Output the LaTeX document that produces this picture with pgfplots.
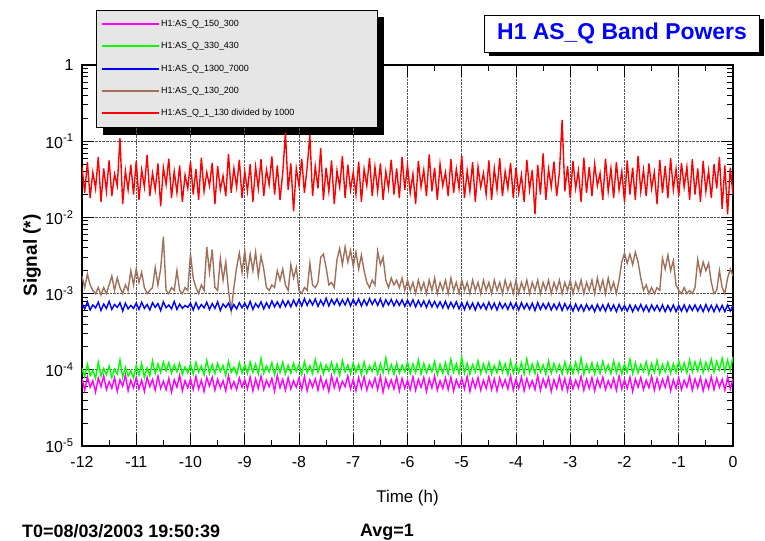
\documentclass[border=0pt]{standalone}
\usepackage{pgfplots}
\pgfplotsset{compat=1.18}
\usepackage{pgfplotstable}
\usepackage{fontspec}
\setmainfont{Liberation Sans}
\usetikzlibrary{shadows,backgrounds}

\definecolor{rootbrown}{RGB}{160,112,90}
\definecolor{rootgreen}{RGB}{0,255,0}
\definecolor{rootmag}{RGB}{255,0,255}
\definecolor{rootblue}{RGB}{0,0,255}
\definecolor{rootred}{RGB}{255,0,0}
\definecolor{legfill}{RGB}{230,230,230}

\pgfplotstableread{
t m g b br r
-12.00 7.6e-5 1.05e-4 7.4e-4 1.7e-3 4.6e-2
-11.95 5.4e-5 8.1e-5 6.3e-4 1.2e-3 2.1e-2
-11.90 8.1e-5 1.18e-4 7.8e-4 1.8e-3 5.3e-2
-11.85 5.9e-5 8.4e-5 6.1e-4 1.3e-3 1.8e-2
-11.80 7.2e-5 9.9e-5 7.1e-4 1.1e-3 3.9e-2
-11.75 5.1e-5 7.7e-5 6.5e-4 1.0e-3 2.4e-2
-11.70 7.8e-5 1.26e-4 7.7e-4 1.2e-3 6.2e-2
-11.65 6.0e-5 8.2e-5 6.0e-4 9.6e-4 1.6e-2
-11.60 8.4e-5 1.04e-4 7.3e-4 1.2e-3 4.4e-2
-11.55 5.5e-5 8.6e-5 6.4e-4 1.0e-3 2.2e-2
-11.50 7.0e-5 1.12e-4 7.9e-4 1.3e-3 5.6e-2
-11.45 5.7e-5 7.9e-5 6.2e-4 1.7e-3 1.9e-2
-11.40 7.9e-5 1.02e-4 7.2e-4 1.1e-3 3.7e-2
-11.35 5.2e-5 8.8e-5 6.6e-4 1.6e-3 2.6e-2
-11.30 7.4e-5 1.35e-4 7.6e-4 1.2e-3 1.1e-1
-11.25 6.1e-5 8.0e-5 5.9e-4 1.0e-3 1.5e-2
-11.20 8.6e-5 1.09e-4 7.5e-4 1.3e-3 4.1e-2
-11.15 5.3e-5 8.3e-5 6.3e-4 1.1e-3 2.3e-2
-11.10 7.3e-5 9.7e-5 7.0e-4 2.0e-3 4.9e-2
-11.05 5.8e-5 7.8e-5 6.4e-4 1.3e-3 2.0e-2
-11.00 7.9e-5 1.14e-4 7.5e-4 2.1e-3 5.5e-2
-10.95 5.6e-5 8.5e-5 6.2e-4 1.4e-3 1.7e-2
-10.90 7.3e-5 1.21e-4 7.7e-4 1.9e-3 4.2e-2
-10.85 5.2e-5 7.9e-5 6.4e-4 1.2e-3 2.5e-2
-10.80 8.0e-5 1.06e-4 7.2e-4 1.0e-3 6.6e-2
-10.75 6.0e-5 8.3e-5 6.1e-4 1.1e-3 1.9e-2
-10.70 7.5e-5 1.31e-4 7.6e-4 1.2e-3 3.8e-2
-10.65 5.4e-5 8.9e-5 6.6e-4 2.2e-3 2.3e-2
-10.60 8.3e-5 1.19e-4 7.4e-4 1.3e-3 5.1e-2
-10.55 5.7e-5 9.2e-5 6.0e-4 2.1e-3 1.4e-2
-10.50 7.1e-5 1.27e-4 7.8e-4 5.6e-3 4.5e-2
-10.45 5.5e-5 9.6e-5 6.5e-4 1.1e-3 2.7e-2
-10.40 7.7e-5 1.24e-4 7.1e-4 1.0e-3 5.9e-2
-10.35 5.1e-5 9.0e-5 6.3e-4 1.2e-3 1.8e-2
-10.30 7.4e-5 1.16e-4 7.9e-4 1.1e-3 4.0e-2
-10.25 5.9e-5 9.4e-5 6.2e-4 2.0e-3 2.1e-2
-10.20 8.5e-5 1.22e-4 7.3e-4 1.1e-3 4.8e-2
-10.15 5.3e-5 8.7e-5 6.4e-4 1.0e-3 1.6e-2
-10.10 7.2e-5 1.09e-4 7.0e-4 1.2e-3 3.6e-2
-10.05 5.8e-5 9.1e-5 6.6e-4 1.1e-3 2.4e-2
-10.00 7.6e-5 1.18e-4 7.5e-4 3.3e-3 5.4e-2
-9.95 5.5e-5 8.8e-5 6.1e-4 1.6e-3 2.0e-2
-9.90 8.2e-5 1.25e-4 7.6e-4 1.2e-3 4.3e-2
-9.85 5.6e-5 9.3e-5 6.3e-4 1.0e-3 1.7e-2
-9.80 7.3e-5 1.12e-4 7.2e-4 1.3e-3 6.1e-2
-9.75 5.2e-5 8.6e-5 6.5e-4 1.1e-3 2.2e-2
-9.70 7.9e-5 1.33e-4 7.7e-4 4.1e-3 3.9e-2
-9.65 6.1e-5 9.0e-5 6.2e-4 1.9e-3 2.6e-2
-9.60 8.0e-5 1.17e-4 7.4e-4 3.8e-3 5.2e-2
-9.55 5.4e-5 8.9e-5 6.4e-4 1.2e-3 1.5e-2
-9.50 7.5e-5 1.21e-4 7.8e-4 1.1e-3 4.7e-2
-9.45 5.8e-5 9.5e-5 6.0e-4 2.9e-3 2.3e-2
-9.40 7.2e-5 1.14e-4 7.3e-4 1.5e-3 3.5e-2
-9.35 5.3e-5 8.4e-5 6.6e-4 2.6e-3 1.9e-2
-9.30 8.4e-5 1.29e-4 7.5e-4 1.1e-3 6.8e-2
-9.25 5.7e-5 9.2e-5 6.1e-4 6.0e-4 2.1e-2
-9.20 7.0e-5 1.08e-4 7.2e-4 1.2e-3 4.4e-2
-9.15 5.5e-5 8.7e-5 6.3e-4 2.2e-3 2.5e-2
-9.10 7.8e-5 1.23e-4 7.6e-4 3.4e-3 5.7e-2
-9.05 5.9e-5 9.1e-5 6.5e-4 1.9e-3 1.8e-2
-9.00 7.4e-5 1.16e-4 7.5e-4 3.6e-3 4.0e-2
-8.95 5.6e-5 8.9e-5 6.4e-4 1.8e-3 2.2e-2
-8.90 8.1e-5 1.27e-4 7.9e-4 3.3e-3 5.0e-2
-8.85 5.3e-5 9.3e-5 6.2e-4 2.0e-3 1.6e-2
-8.80 7.6e-5 1.19e-4 7.4e-4 3.5e-3 4.6e-2
-8.75 5.7e-5 8.8e-5 6.6e-4 1.7e-3 2.4e-2
-8.70 8.3e-5 1.41e-4 7.8e-4 3.1e-3 5.8e-2
-8.65 5.5e-5 9.0e-5 6.3e-4 2.1e-3 1.9e-2
-8.60 7.3e-5 1.13e-4 7.6e-4 1.2e-3 4.2e-2
-8.55 6.0e-5 9.4e-5 6.5e-4 1.1e-3 2.7e-2
-8.50 7.7e-5 1.24e-4 8.0e-4 1.3e-3 6.3e-2
-8.45 5.2e-5 8.6e-5 6.7e-4 1.2e-3 2.0e-2
-8.40 8.5e-5 1.18e-4 7.8e-4 2.0e-3 4.8e-2
-8.35 5.8e-5 9.2e-5 6.6e-4 1.5e-3 1.7e-2
-8.30 7.5e-5 1.26e-4 8.1e-4 2.1e-3 3.8e-2
-8.25 5.4e-5 8.9e-5 6.8e-4 1.3e-3 1.3e-1
-8.20 7.9e-5 1.15e-4 8.0e-4 1.1e-3 2.3e-2
-8.15 5.6e-5 9.0e-5 6.7e-4 2.4e-3 5.1e-2
-8.10 7.2e-5 1.22e-4 8.2e-4 1.6e-3 1.2e-2
-8.05 5.9e-5 9.5e-5 6.9e-4 2.2e-3 4.4e-2
-8.00 7.8e-5 1.17e-4 8.4e-4 1.1e-3 2.6e-2
-7.95 5.5e-5 8.7e-5 6.9e-4 1.0e-3 5.9e-2
-7.90 8.2e-5 1.28e-4 8.6e-4 1.2e-3 2.1e-2
-7.85 5.3e-5 9.1e-5 7.0e-4 1.1e-3 4.5e-2
-7.80 7.4e-5 1.14e-4 8.3e-4 2.5e-3 1.2e-1
-7.75 5.9e-5 8.9e-5 7.1e-4 1.3e-3 1.9e-2
-7.70 7.6e-5 1.36e-4 8.5e-4 1.2e-3 4.7e-2
-7.65 5.4e-5 9.3e-5 6.8e-4 1.4e-3 2.4e-2
-7.60 8.0e-5 1.21e-4 8.2e-4 3.0e-3 8.1e-2
-7.55 5.7e-5 8.8e-5 7.0e-4 3.3e-3 1.7e-2
-7.50 7.3e-5 1.16e-4 8.7e-4 2.2e-3 4.5e-2
-7.45 5.2e-5 9.6e-5 6.9e-4 1.3e-3 2.2e-2
-7.40 8.4e-5 1.25e-4 8.4e-4 1.4e-3 5.6e-2
-7.35 5.8e-5 9.0e-5 7.2e-4 1.2e-3 1.5e-2
-7.30 7.7e-5 1.19e-4 8.5e-4 2.8e-3 4.1e-2
-7.25 5.5e-5 8.5e-5 7.0e-4 3.9e-3 2.5e-2
-7.20 7.1e-5 1.32e-4 8.3e-4 2.4e-3 6.4e-2
-7.15 6.0e-5 9.4e-5 7.1e-4 4.1e-3 1.8e-2
-7.10 8.3e-5 1.15e-4 8.6e-4 2.6e-3 4.9e-2
-7.05 5.6e-5 8.9e-5 6.9e-4 3.7e-3 2.3e-2
-7.00 7.5e-5 1.23e-4 8.4e-4 2.3e-3 3.9e-2
-6.95 5.3e-5 9.2e-5 7.1e-4 3.5e-3 2.0e-2
-6.90 7.9e-5 1.18e-4 8.5e-4 2.1e-3 5.4e-2
-6.85 5.7e-5 8.6e-5 6.9e-4 3.2e-3 1.6e-2
-6.80 8.1e-5 1.27e-4 8.3e-4 2.0e-3 4.3e-2
-6.75 5.4e-5 9.0e-5 7.0e-4 1.4e-3 2.6e-2
-6.70 7.2e-5 1.13e-4 8.6e-4 1.2e-3 6.0e-2
-6.65 5.9e-5 9.5e-5 7.2e-4 1.5e-3 1.9e-2
-6.60 7.8e-5 1.24e-4 8.4e-4 1.3e-3 4.6e-2
-6.55 5.5e-5 8.8e-5 7.0e-4 3.6e-3 2.2e-2
-6.50 8.2e-5 1.20e-4 8.5e-4 2.4e-3 5.1e-2
-6.45 5.1e-5 9.1e-5 6.8e-4 3.0e-3 1.7e-2
-6.40 7.6e-5 1.43e-4 8.3e-4 1.5e-3 4.0e-2
-6.35 5.8e-5 9.3e-5 7.1e-4 1.2e-3 2.4e-2
-6.30 7.4e-5 1.17e-4 8.4e-4 1.6e-3 5.7e-2
-6.25 5.6e-5 8.7e-5 6.9e-4 1.3e-3 2.0e-2
-6.20 8.0e-5 1.22e-4 8.2e-4 1.5e-3 4.4e-2
-6.15 5.3e-5 9.0e-5 7.0e-4 1.2e-3 1.8e-2
-6.10 7.7e-5 1.15e-4 8.3e-4 1.6e-3 6.2e-2
-6.05 5.7e-5 9.4e-5 6.8e-4 1.1e-3 2.3e-2
-6.00 7.3e-5 1.26e-4 8.2e-4 1.5e-3 4.8e-2
-5.95 5.5e-5 8.9e-5 6.9e-4 1.1e-3 2.1e-2
-5.90 8.1e-5 1.19e-4 8.3e-4 1.4e-3 3.7e-2
-5.85 5.4e-5 9.2e-5 6.7e-4 1.0e-3 1.5e-2
-5.80 7.5e-5 1.34e-4 8.1e-4 1.5e-3 5.5e-2
-5.75 5.9e-5 8.8e-5 6.8e-4 1.1e-3 2.5e-2
-5.70 7.9e-5 1.21e-4 8.0e-4 1.4e-3 4.2e-2
-5.65 5.2e-5 9.1e-5 6.6e-4 1.0e-3 1.9e-2
-5.60 7.6e-5 1.16e-4 8.1e-4 1.5e-3 6.7e-2
-5.55 5.8e-5 9.4e-5 6.7e-4 1.1e-3 2.2e-2
-5.50 8.3e-5 1.29e-4 7.9e-4 1.6e-3 4.5e-2
-5.45 5.4e-5 8.6e-5 6.6e-4 1.0e-3 1.7e-2
-5.40 7.2e-5 1.18e-4 7.8e-4 1.4e-3 5.0e-2
-5.35 5.7e-5 9.0e-5 6.5e-4 1.1e-3 2.6e-2
-5.30 7.8e-5 1.24e-4 7.9e-4 1.5e-3 3.9e-2
-5.25 5.5e-5 8.8e-5 6.4e-4 1.0e-3 1.9e-2
-5.20 8.0e-5 1.37e-4 7.7e-4 1.6e-3 5.8e-2
-5.15 5.3e-5 9.3e-5 6.5e-4 1.1e-3 2.1e-2
-5.10 7.4e-5 1.20e-4 7.8e-4 1.4e-3 4.3e-2
-5.05 5.9e-5 8.9e-5 6.3e-4 1.0e-3 2.4e-2
-5.00 7.7e-5 1.46e-4 7.6e-4 1.5e-3 6.5e-2
-4.95 5.6e-5 9.0e-5 6.2e-4 1.1e-3 1.8e-2
-4.90 8.2e-5 1.22e-4 7.7e-4 1.4e-3 4.1e-2
-4.85 5.2e-5 8.7e-5 6.3e-4 1.0e-3 2.2e-2
-4.80 7.5e-5 1.17e-4 7.5e-4 1.5e-3 5.3e-2
-4.75 5.8e-5 9.4e-5 6.1e-4 1.1e-3 1.6e-2
-4.70 7.9e-5 1.31e-4 7.6e-4 1.4e-3 4.6e-2
-4.65 5.4e-5 8.9e-5 6.4e-4 1.0e-3 2.5e-2
-4.60 7.3e-5 1.19e-4 7.4e-4 1.5e-3 3.8e-2
-4.55 5.7e-5 9.2e-5 6.2e-4 1.1e-3 2.0e-2
-4.50 8.1e-5 1.25e-4 7.7e-4 1.4e-3 5.6e-2
-4.45 5.5e-5 8.8e-5 6.3e-4 1.0e-3 1.7e-2
-4.40 7.6e-5 1.14e-4 7.5e-4 1.5e-3 4.4e-2
-4.35 5.3e-5 9.1e-5 6.1e-4 1.1e-3 2.3e-2
-4.30 7.8e-5 1.28e-4 7.6e-4 1.4e-3 6.0e-2
-4.25 5.9e-5 9.3e-5 6.4e-4 1.0e-3 1.9e-2
-4.20 7.4e-5 1.20e-4 7.4e-4 1.5e-3 4.0e-2
-4.15 5.6e-5 8.6e-5 6.2e-4 1.1e-3 2.4e-2
-4.10 8.3e-5 1.33e-4 7.6e-4 1.4e-3 5.2e-2
-4.05 5.4e-5 9.0e-5 6.3e-4 1.0e-3 1.8e-2
-4.00 7.5e-5 1.18e-4 7.5e-4 1.5e-3 4.5e-2
-3.95 5.7e-5 9.2e-5 6.1e-4 1.0e-3 2.1e-2
-3.90 8.0e-5 1.24e-4 7.6e-4 1.4e-3 3.6e-2
-3.85 5.3e-5 8.8e-5 6.3e-4 1.1e-3 1.6e-2
-3.80 7.7e-5 1.39e-4 7.4e-4 1.5e-3 5.7e-2
-3.75 5.8e-5 9.1e-5 6.2e-4 1.0e-3 2.3e-2
-3.70 7.2e-5 1.19e-4 7.5e-4 1.4e-3 4.2e-2
-3.65 5.5e-5 8.9e-5 6.0e-4 1.1e-3 1.1e-2
-3.60 8.4e-5 1.26e-4 7.6e-4 1.5e-3 4.9e-2
-3.55 5.4e-5 9.3e-5 6.2e-4 1.0e-3 2.0e-2
-3.50 7.6e-5 1.16e-4 7.4e-4 1.4e-3 6.9e-2
-3.45 5.9e-5 8.7e-5 6.3e-4 1.1e-3 1.7e-2
-3.40 7.9e-5 1.30e-4 7.5e-4 1.5e-3 4.3e-2
-3.35 5.2e-5 9.0e-5 6.1e-4 1.0e-3 2.5e-2
-3.30 7.4e-5 1.21e-4 7.3e-4 1.4e-3 5.4e-2
-3.25 5.7e-5 9.4e-5 6.2e-4 1.1e-3 1.9e-2
-3.20 8.1e-5 1.17e-4 7.5e-4 1.5e-3 3.9e-2
-3.15 5.5e-5 8.8e-5 6.0e-4 1.0e-3 1.9e-1
-3.10 7.7e-5 1.27e-4 7.4e-4 1.4e-3 2.2e-2
-3.05 5.3e-5 9.1e-5 6.2e-4 1.1e-3 4.7e-2
-3.00 7.8e-5 1.19e-4 7.2e-4 1.5e-3 1.8e-2
-2.95 5.6e-5 8.9e-5 5.9e-4 1.0e-3 5.5e-2
-2.90 7.3e-5 1.25e-4 7.3e-4 1.4e-3 2.4e-2
-2.85 5.8e-5 9.2e-5 6.0e-4 1.1e-3 4.1e-2
-2.80 8.2e-5 1.42e-4 7.1e-4 1.5e-3 1.6e-2
-2.75 5.4e-5 8.7e-5 5.9e-4 1.0e-3 6.1e-2
-2.70 7.5e-5 1.18e-4 7.2e-4 1.4e-3 2.1e-2
-2.65 5.7e-5 9.3e-5 6.1e-4 1.1e-3 4.6e-2
-2.60 7.9e-5 1.23e-4 7.0e-4 1.5e-3 1.9e-2
-2.55 5.3e-5 8.8e-5 5.8e-4 1.0e-3 5.0e-2
-2.50 7.6e-5 1.20e-4 7.2e-4 1.6e-3 2.6e-2
-2.45 5.9e-5 9.0e-5 6.0e-4 1.1e-3 3.8e-2
-2.40 8.0e-5 1.29e-4 7.1e-4 1.5e-3 1.7e-2
-2.35 5.5e-5 9.4e-5 5.9e-4 1.0e-3 5.9e-2
-2.30 7.2e-5 1.16e-4 7.3e-4 1.6e-3 2.2e-2
-2.25 5.8e-5 8.9e-5 6.0e-4 1.1e-3 4.4e-2
-2.20 7.7e-5 1.31e-4 7.1e-4 1.4e-3 1.8e-2
-2.15 5.4e-5 9.1e-5 5.8e-4 1.0e-3 5.3e-2
-2.10 8.3e-5 1.22e-4 7.2e-4 1.5e-3 2.3e-2
-2.05 5.6e-5 8.8e-5 6.0e-4 2.6e-3 4.0e-2
-2.00 7.4e-5 1.19e-4 7.0e-4 3.4e-3 1.6e-2
-1.95 5.7e-5 9.3e-5 5.9e-4 2.5e-3 5.6e-2
-1.90 8.0e-5 1.37e-4 7.1e-4 3.3e-3 2.0e-2
-1.85 5.2e-5 8.9e-5 5.8e-4 2.4e-3 4.5e-2
-1.80 7.6e-5 1.24e-4 7.0e-4 3.5e-3 1.7e-2
-1.75 5.9e-5 9.1e-5 6.0e-4 2.6e-3 6.4e-2
-1.70 7.9e-5 1.17e-4 7.2e-4 1.6e-3 2.2e-2
-1.65 5.5e-5 9.5e-5 5.9e-4 1.1e-3 4.2e-2
-1.60 7.3e-5 1.28e-4 7.0e-4 1.3e-3 1.9e-2
-1.55 5.8e-5 8.7e-5 5.8e-4 1.0e-3 5.1e-2
-1.50 8.2e-5 1.21e-4 7.1e-4 1.2e-3 2.4e-2
-1.45 5.4e-5 9.2e-5 6.0e-4 1.0e-3 3.9e-2
-1.40 7.7e-5 1.33e-4 7.0e-4 1.2e-3 1.5e-2
-1.35 5.6e-5 8.9e-5 5.9e-4 1.1e-3 5.7e-2
-1.30 7.5e-5 1.18e-4 7.1e-4 2.9e-3 2.1e-2
-1.25 5.9e-5 9.4e-5 5.8e-4 2.1e-3 4.7e-2
-1.20 8.1e-5 1.26e-4 7.0e-4 3.2e-3 1.8e-2
-1.15 5.3e-5 9.0e-5 5.9e-4 2.0e-3 6.0e-2
-1.10 7.4e-5 1.20e-4 7.1e-4 2.7e-3 2.3e-2
-1.05 5.7e-5 9.3e-5 5.8e-4 1.3e-3 4.3e-2
-1.00 7.8e-5 1.30e-4 7.0e-4 1.1e-3 1.9e-2
-0.95 5.5e-5 9.6e-5 5.9e-4 1.0e-3 5.2e-2
-0.90 7.3e-5 1.23e-4 7.1e-4 1.2e-3 2.5e-2
-0.85 5.9e-5 9.1e-5 5.8e-4 1.0e-3 4.6e-2
-0.80 8.2e-5 1.35e-4 7.0e-4 1.1e-3 1.7e-2
-0.75 5.4e-5 9.4e-5 6.0e-4 1.0e-3 5.8e-2
-0.70 7.6e-5 1.27e-4 7.1e-4 1.2e-3 2.0e-2
-0.65 5.8e-5 9.7e-5 5.9e-4 2.8e-3 4.4e-2
-0.60 7.9e-5 1.32e-4 7.0e-4 1.8e-3 1.6e-2
-0.55 5.3e-5 9.2e-5 5.8e-4 2.6e-3 5.5e-2
-0.50 7.4e-5 1.25e-4 7.2e-4 2.0e-3 2.2e-2
-0.45 5.7e-5 9.8e-5 5.9e-4 2.5e-3 4.1e-2
-0.40 8.1e-5 1.38e-4 7.0e-4 1.4e-3 1.8e-2
-0.35 5.5e-5 9.3e-5 5.8e-4 1.0e-3 5.0e-2
-0.30 7.7e-5 1.29e-4 7.1e-4 1.1e-3 2.4e-2
-0.25 5.9e-5 1.00e-4 5.9e-4 2.0e-3 6.2e-2
-0.20 7.5e-5 1.41e-4 7.0e-4 1.2e-3 1.3e-2
-0.15 5.4e-5 9.5e-5 5.8e-4 1.0e-3 4.8e-2
-0.10 8.0e-5 1.34e-4 7.1e-4 1.6e-3 1.1e-2
-0.05 5.6e-5 9.9e-5 5.9e-4 2.1e-3 4.5e-2
0.00 7.6e-5 1.48e-4 7.0e-4 1.7e-3 2.0e-2
}\bandtable

\begin{document}
\begin{tikzpicture}
\begin{axis}[
  scale only axis, width=651bp, height=381bp,
  xmin=-12, xmax=0, ymode=log, ymin=1e-5, ymax=1,
  xtick={-12,-11,-10,-9,-8,-7,-6,-5,-4,-3,-2,-1,0},
  minor x tick num=1,
  ytick={1e-5,1e-4,1e-3,1e-2,1e-1,1},
  yticklabels={10\textsuperscript{-5},10\textsuperscript{-4},10\textsuperscript{-3},10\textsuperscript{-2},10\textsuperscript{-1},1},
  minor ytick={2e-5,3e-5,4e-5,5e-5,6e-5,7e-5,8e-5,9e-5,2e-4,3e-4,4e-4,5e-4,6e-4,7e-4,8e-4,9e-4,2e-3,3e-3,4e-3,5e-3,6e-3,7e-3,8e-3,9e-3,2e-2,3e-2,4e-2,5e-2,6e-2,7e-2,8e-2,9e-2,0.2,0.3,0.4,0.5,0.6,0.7,0.8,0.9},
  /pgf/number format/assume math mode=true,
  tick align=inside,
  major tick length=12bp, minor tick length=6bp,
  every tick/.style={black, line width=0.8pt},
  axis line style={line width=1.2pt},
  grid=major,
  major grid style={densely dotted, black!65, line width=0.7pt},
  xticklabel style={font=\fontsize{16}{18}\selectfont, yshift=-7bp},
  yticklabel style={font=\fontsize{16}{18}\selectfont, xshift=-5bp},
  xlabel={Time (h)},
  ylabel={Signal (*)},
  every axis x label/.style={at={(axis description cs:0.5,0)}, yshift=-52bp, anchor=center, font=\fontsize{17}{20}\selectfont},
  every axis y label/.style={at={(axis description cs:0,0.5)}, xshift=-50bp, rotate=90, anchor=center, font=\bfseries\fontsize{19}{22}\selectfont},
  legend image code/.code={\draw[#1] (0bp,0bp) -- (57bp,0bp);},
  legend cell align=left,
  legend style={name=leg, at={(rel axis cs:0.0215,1.144)}, anchor=north west,
    fill=legfill, draw=none,
    font=\fontsize{9}{10}\selectfont,
    inner xsep=5bp, inner ysep=9bp, row sep=12.5bp,
    nodes={inner sep=1bp}},
]
\addlegendimage{rootmag, line width=2pt}
\addlegendentry{H1:AS\_Q\_150\_300}
\addlegendimage{rootgreen, line width=2pt}
\addlegendentry{H1:AS\_Q\_330\_430}
\addlegendimage{rootblue, line width=2pt}
\addlegendentry{H1:AS\_Q\_1300\_7000}
\addlegendimage{rootbrown, line width=2pt}
\addlegendentry{H1:AS\_Q\_130\_200}
\addlegendimage{rootred, line width=2pt}
\addlegendentry{\makebox[210bp][l]{H1:AS\_Q\_1\_130 divided by 1000}}

\addplot[rootgreen, line width=1.4pt, forget plot] table[x=t, y=g] {\bandtable};
\addplot[rootmag, line width=1.4pt, forget plot] table[x=t, y=m] {\bandtable};
\addplot[rootbrown, line width=1.4pt, forget plot] table[x=t, y=br] {\bandtable};
\addplot[rootblue, line width=1.4pt, forget plot] table[x=t, y=b] {\bandtable};
\addplot[rootred, line width=1.4pt, forget plot] table[x=t, y=r] {\bandtable};
\end{axis}

\begin{pgfonlayer}{background}
\fill[black] ([shift={(7bp,-7bp)}]leg.south west) rectangle ([shift={(7bp,-7bp)}]leg.north east);
\end{pgfonlayer}
\draw[black, line width=0.8pt] (leg.south west) rectangle (leg.north east);

\node[draw=black, line width=0.9pt, fill=white,
      drop shadow={shadow xshift=4bp, shadow yshift=-4bp, fill=black, opacity=1},
      minimum width=275bp, minimum height=37bp, inner sep=2bp,
      text=rootblue, font=\bfseries\fontsize{23}{26}\selectfont]
  at ([shift={(540bp,31.5bp)}]current axis.north west) {H1 AS\_Q Band Powers};

\node[anchor=west, inner sep=0pt, font=\bfseries\fontsize{18}{20}\selectfont]
  at ([shift={(-60bp,-85bp)}]current axis.south west) {T0=08/03/2003 19:50:39};
\node[anchor=west, inner sep=0pt, font=\bfseries\fontsize{18}{20}\selectfont]
  at ([shift={(278bp,-86bp)}]current axis.south west) {Avg=1};

\pgfresetboundingbox
\path[use as bounding box] ([shift={(-82bp,-95bp)}]current axis.south west) rectangle ([shift={(32bp,65bp)}]current axis.north east);
\end{tikzpicture}
\end{document}
